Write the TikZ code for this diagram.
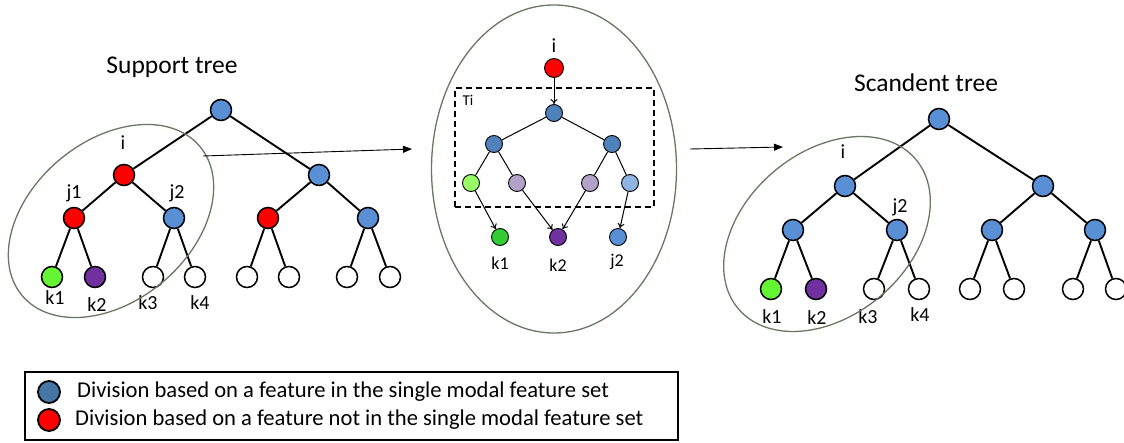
\documentclass[tikz,border=0pt]{standalone}
\usepackage{fontspec}
\setmainfont{Carlito}
\usetikzlibrary{arrows.meta, positioning, shapes.geometric}
\definecolor{treeblue}{RGB}{88, 143, 213}
\definecolor{deepblue}{RGB}{79, 129, 189}
\definecolor{keyblue}{RGB}{70, 118, 165}
\definecolor{splitred}{RGB}{255, 0, 0}
\definecolor{leafgreen}{RGB}{102, 245, 51}
\definecolor{leafpurple}{RGB}{112, 48, 160}
\definecolor{palegreen}{RGB}{153, 255, 102}
\definecolor{palepurple}{RGB}{179, 162, 199}
\definecolor{paleblue}{RGB}{141, 180, 226}
\definecolor{midgreen}{RGB}{51, 204, 51}
\definecolor{ringgreen}{RGB}{105, 120, 98}

\begin{document}
\begin{tikzpicture}[
          x=1pt, y=-1pt, on grid,
          vert/.style={circle, draw, line width=1.5pt, minimum size=21pt, inner sep=0pt},
          sub/.style={circle, draw, line width=0.9pt, minimum size=17pt, inner sep=0pt},
          edge/.style={line width=1.9pt},
          subedge/.style={line width=1pt},
          subarr/.style={-{To[length=5pt, width=7pt]}, line width=1pt},
          flow/.style={-{Triangle[length=9pt, width=7pt]}, line width=0.9pt},
          ring/.style={ellipse, draw=ringgreen, line width=1.3pt, inner sep=0pt},
          title/.style={font=\fontsize{25.5}{30}\selectfont},
          lbl/.style={font=\fontsize{20}{24}\selectfont, inner sep=0pt},
          sublbl/.style={font=\fontsize{18}{21}\selectfont, inner sep=0pt},
        ]
        \useasboundingbox (0,0) rectangle (1124,442);

        % support tree
        \node[title] (s-title) at (172,67) {Support tree};
        \node[vert, fill=treeblue] (s-root) at (221,110) {};
        \node[vert, fill=splitred, below left=65pt and 97pt of s-root]  (s-i)  {};
        \node[vert, fill=treeblue, below right=65pt and 98pt of s-root] (s-b)  {};
        \node[vert, fill=splitred, below left=43pt and 50pt of s-i]     (s-j1) {};
        \node[vert, fill=treeblue, below right=43pt and 50pt of s-i]    (s-j2) {};
        \node[vert, fill=splitred, below left=43pt and 51pt of s-b]     (s-c)  {};
        \node[vert, fill=treeblue, below right=43pt and 49pt of s-b]    (s-d)  {};
        \node[vert, fill=leafgreen, below left=59pt and 22pt of s-j1]   (s-k1) {};
        \node[vert, fill=leafpurple, below right=59pt and 21pt of s-j1] (s-k2) {};
        \node[vert, fill=white, below left=59pt and 21pt of s-j2]       (s-k3) {};
        \node[vert, fill=white, below right=59pt and 21pt of s-j2]      (s-k4) {};
        \node[vert, fill=white, below left=59pt and 21pt of s-c]        (s-e1) {};
        \node[vert, fill=white, below right=59pt and 21pt of s-c]       (s-e2) {};
        \node[vert, fill=white, below left=59pt and 21pt of s-d]        (s-e3) {};
        \node[vert, fill=white, below right=59pt and 22pt of s-d]       (s-e4) {};

        \draw[edge] (s-root) -- (s-i)  (s-root) -- (s-b);
        \draw[edge] (s-i) -- (s-j1)    (s-i) -- (s-j2);
        \draw[edge] (s-b) -- (s-c)     (s-b) -- (s-d);
        \draw[edge] (s-j1) -- (s-k1)   (s-j1) -- (s-k2);
        \draw[edge] (s-j2) -- (s-k3)   (s-j2) -- (s-k4);
        \draw[edge] (s-c) -- (s-e1)    (s-c) -- (s-e2);
        \draw[edge] (s-d) -- (s-e3)    (s-d) -- (s-e4);

        \node[lbl] (s-lbl-i)  at (123,143) {i};
        \node[lbl] (s-lbl-j1) at (74,193)  {j1};
        \node[lbl] (s-lbl-j2) at (177,193) {j2};
        \node[lbl] (s-lbl-k1) at (55,298)  {k1};
        \node[lbl] (s-lbl-k2) at (97,305)  {k2};
        \node[lbl] (s-lbl-k3) at (148,303) {k3};
        \node[lbl] (s-lbl-k4) at (200,303) {k4};
        \node[ring, minimum width=232pt, minimum height=160pt, rotate=40] (s-ring) at (111,221) {};

        % extracted subtree
        \node[ring, minimum width=245pt, minimum height=328pt] (m-ring) at (554,169) {};
        \node[draw, dashed, dash pattern=on 6pt off 4pt, line width=1.2pt,
              minimum width=199pt, minimum height=119pt] (m-box) at (554.5,147.5) {};
        \node[font=\fontsize{15}{18}\selectfont, inner sep=0pt] (m-lbl-ti) at (468,100) {Ti};
        \node[lbl] (m-lbl-i)  at (554,46)  {i};
        \node[sub, fill=splitred, minimum size=19pt] (m-i) at (554,68) {};
        \node[sub, fill=deepblue, below=45pt of m-i] (m-top) {};
        \node[sub, fill=deepblue, below left=31pt and 60pt of m-top]  (m-l) {};
        \node[sub, fill=deepblue, below right=31pt and 58pt of m-top] (m-r) {};
        \node[sub, fill=palegreen, below left=39pt and 23pt of m-l]   (m-ll) {};
        \node[sub, fill=palepurple, below right=39pt and 23pt of m-l] (m-lr) {};
        \node[sub, fill=palepurple, below left=39pt and 22pt of m-r]  (m-rl) {};
        \node[sub, fill=paleblue, below right=39pt and 18pt of m-r]   (m-rr) {};
        \node[sub, fill=midgreen]   (m-k1) at (500,237) {};
        \node[sub, fill=leafpurple] (m-k2) at (558,237) {};
        \node[sub, fill=treeblue]   (m-j2) at (618,237) {};

        \draw[subarr] (m-i) -- (m-top);
        \draw[subedge] (m-top) -- (m-l)  (m-top) -- (m-r);
        \draw[subedge] (m-l) -- (m-ll)   (m-l) -- (m-lr);
        \draw[subedge] (m-r) -- (m-rl)   (m-r) -- (m-rr);
        \draw[subarr] (m-ll) -- (m-k1);
        \draw[subarr] (m-lr) -- (m-k2);
        \draw[subarr] (m-rl) -- (m-k2);
        \draw[subarr] (m-rr) -- (m-j2);

        \node[sublbl] (m-lbl-k1) at (500,263) {k1};
        \node[sublbl] (m-lbl-k2) at (558,265) {k2};
        \node[sublbl] (m-lbl-j2) at (617,262) {j2};

        % scandent tree
        \node[title] (c-title) at (926,83) {Scandent tree};
        \node[vert, fill=treeblue] (c-root) at (939,119) {};
        \node[vert, fill=treeblue, below left=67pt and 94pt of c-root]   (c-i)  {};
        \node[vert, fill=treeblue, below right=67pt and 104pt of c-root] (c-b)  {};
        \node[vert, fill=treeblue, below left=44pt and 52pt of c-i]      (c-j1) {};
        \node[vert, fill=treeblue, below right=44pt and 52pt of c-i]     (c-j2) {};
        \node[vert, fill=treeblue, below left=44pt and 51pt of c-b]      (c-c)  {};
        \node[vert, fill=treeblue, below right=44pt and 52pt of c-b]     (c-d)  {};
        \node[vert, fill=leafgreen, below left=59pt and 22pt of c-j1]    (c-k1) {};
        \node[vert, fill=leafpurple, below right=59pt and 23pt of c-j1]  (c-k2) {};
        \node[vert, fill=white, below left=59pt and 23pt of c-j2]        (c-k3) {};
        \node[vert, fill=white, below right=59pt and 22pt of c-j2]       (c-k4) {};
        \node[vert, fill=white, below left=59pt and 22pt of c-c]         (c-e1) {};
        \node[vert, fill=white, below right=59pt and 22pt of c-c]        (c-e2) {};
        \node[vert, fill=white, below left=59pt and 22pt of c-d]         (c-e3) {};
        \node[vert, fill=white, below right=59pt and 21pt of c-d]        (c-e4) {};

        \draw[edge] (c-root) -- (c-i)  (c-root) -- (c-b);
        \draw[edge] (c-i) -- (c-j1)    (c-i) -- (c-j2);
        \draw[edge] (c-b) -- (c-c)     (c-b) -- (c-d);
        \draw[edge] (c-j1) -- (c-k1)   (c-j1) -- (c-k2);
        \draw[edge] (c-j2) -- (c-k3)   (c-j2) -- (c-k4);
        \draw[edge] (c-c) -- (c-e1)    (c-c) -- (c-e2);
        \draw[edge] (c-d) -- (c-e3)    (c-d) -- (c-e4);

        \node[lbl] (c-lbl-i)  at (843,152) {i};
        \node[lbl] (c-lbl-j2) at (900,207) {j2};
        \node[lbl] (c-lbl-k1) at (772,317) {k1};
        \node[lbl] (c-lbl-k2) at (817,318) {k2};
        \node[lbl] (c-lbl-k3) at (868,317) {k3};
        \node[lbl] (c-lbl-k4) at (920,315) {k4};
        \node[ring, minimum width=232pt, minimum height=164pt, rotate=40] (c-ring) at (827,234) {};

        % arrows between the panels
        \coordinate (s-out) at (203,156);
        \coordinate (s-tip) at (412,149);
        \coordinate (c-out) at (690,149);
        \coordinate (c-tip) at (783,147);
        \draw[flow] (s-out) -- (s-tip);
        \draw[flow] (c-out) -- (c-tip);

        % key
        \node[draw, line width=1.5pt, minimum width=653pt, minimum height=68pt] (key) at (351.5,406) {};
        \node[vert, fill=keyblue, minimum size=22pt, line width=1.8pt] (key-blue) at (49,392) {};
        \node[vert, fill=splitred, minimum size=22pt, line width=1.8pt] (key-red) at (49,420) {};
        \node[font=\fontsize{22.6}{26}\selectfont, inner sep=0pt, right=28pt of key-blue, anchor=west]
          (key-blue-text) {Division based on a feature in the single modal feature set};
        \node[font=\fontsize{22.6}{26}\selectfont, inner sep=0pt, right=26pt of key-red, anchor=west]
          (key-red-text) {Division based on a feature not in the single modal feature set};
      \end{tikzpicture}
\end{document}
